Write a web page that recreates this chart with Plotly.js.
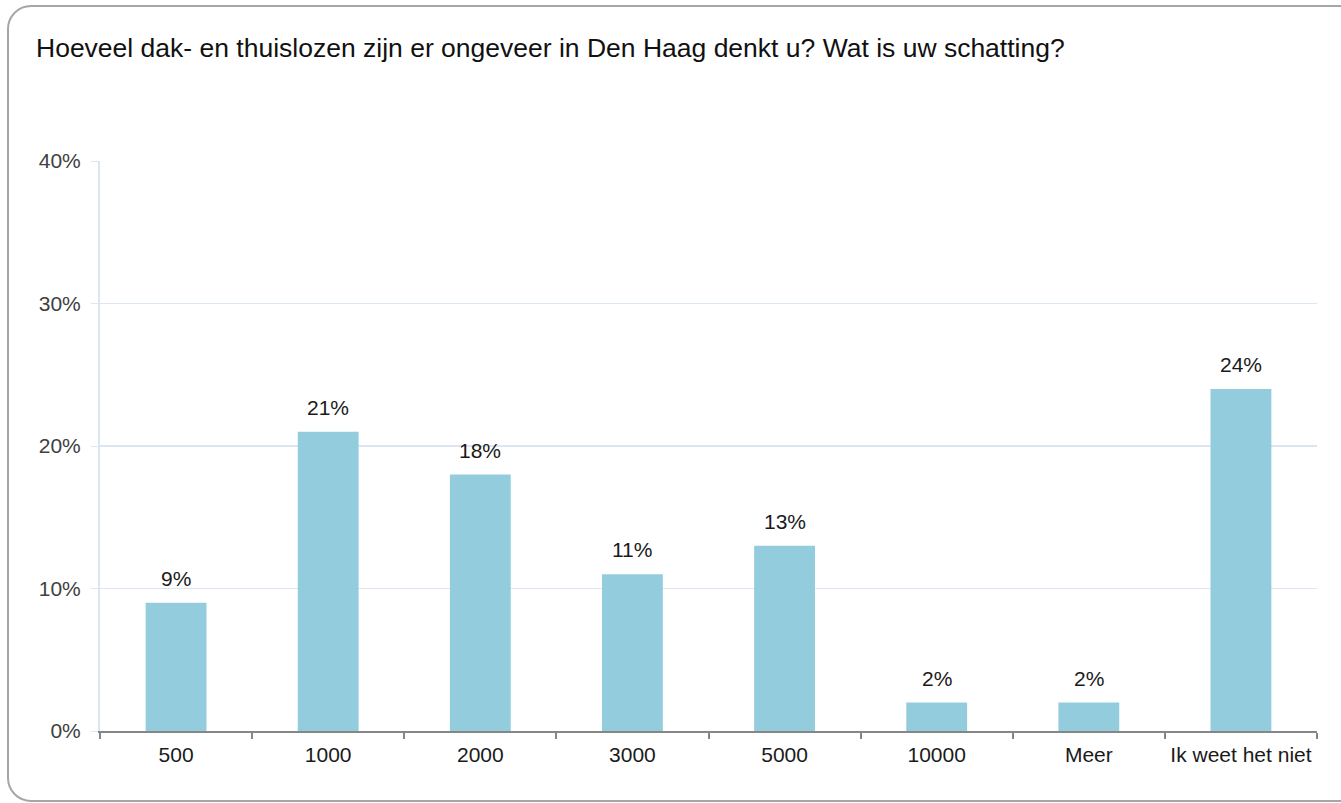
<!DOCTYPE html>
<html>
<head>
<meta charset="utf-8">
<script src="https://cdn.plot.ly/plotly-3.0.1.min.js"></script>
<style>
  html, body { margin: 0; padding: 0; width: 1341px; height: 803px; overflow: hidden; background: #fff; }
  #frame { position: absolute; left: 7px; top: 5px; width: 1360px; height: 797px; border: 2px solid #A6A6A6; border-radius: 24px; box-sizing: border-box; pointer-events: none; z-index: 2; }
  #chart { position: absolute; left: 0; top: 0; width: 1341px; height: 803px; }
</style>
</head>
<body>
<div id="chart"></div>
<div id="frame"></div>
<script>
const categories = ['500', '1000', '2000', '3000', '5000', '10000', 'Meer', 'Ik weet het niet'];
const values = [0.09, 0.21, 0.18, 0.11, 0.13, 0.02, 0.02, 0.24];
const labels = ['9%', '21%', '18%', '11%', '13%', '2%', '2%', '24%'];
const yTickVals = [0, 0.1, 0.2, 0.3, 0.4];
const yTickText = ['0%', '10%', '20%', '30%', '40%'];
const chartTitle = 'Hoeveel dak- en thuislozen zijn er ongeveer in Den Haag denkt u? Wat is uw schatting?';

const font = 'Liberation Sans, Arial, sans-serif';

const trace = {
  type: 'bar',
  x: categories,
  y: values,
  marker: { color: '#93CDDD', line: { width: 0 } },
  hoverinfo: 'none'
};

const annotations = categories.map((c, i) => ({
  x: i, y: values[i], xref: 'x', yref: 'y',
  text: labels[i], showarrow: false,
  yanchor: 'bottom', yshift: 11,
  font: { family: font, size: 21, color: '#1a1a1a' }
}));

const layout = {
  width: 1341, height: 803,
  margin: { l: 100, r: 24, t: 161, b: 72 },
  paper_bgcolor: 'rgba(0,0,0,0)',
  plot_bgcolor: 'rgba(0,0,0,0)',
  showlegend: false,
  bargap: 0.6,
  title: {
    text: chartTitle,
    x: 36 / 1341, xref: 'container', xanchor: 'left',
    y: 1 - 48 / 803, yref: 'container', yanchor: 'middle',
    font: { family: font, size: 26.5, color: '#111' }
  },
  xaxis: {
    type: 'category',
    tickson: 'boundaries',
    ticks: 'outside', ticklen: 6, tickcolor: '#868686', tickwidth: 2,
    ticklabelstandoff: 4,
    showline: true, linecolor: '#868686', linewidth: 2,
    showgrid: false,
    tickfont: { family: font, size: 21, color: '#1a1a1a' },
    fixedrange: true
  },
  yaxis: {
    range: [0, 0.4],
    tickvals: yTickVals, ticktext: yTickText,
    ticks: 'outside', ticklen: 7, tickcolor: '#DCE6F2', tickwidth: 1,
    ticklabelstandoff: 6,
    showline: true, linecolor: '#DCE6F2', linewidth: 2,
    showgrid: true, gridcolor: '#DCE6F2', gridwidth: 1.5,
    zeroline: false,
    tickfont: { family: font, size: 21, color: '#404040' },
    fixedrange: true
  },
  annotations: annotations
};

Plotly.newPlot('chart', [trace], layout, { displayModeBar: false, staticPlot: true });
</script>
</body>
</html>
